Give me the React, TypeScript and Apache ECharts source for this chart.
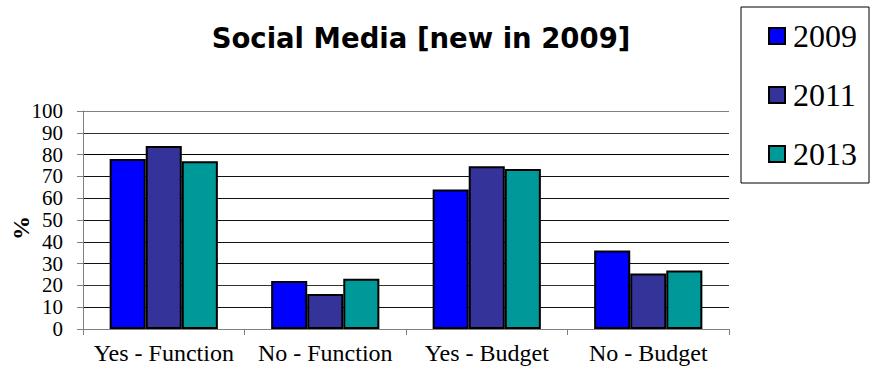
import React, { useEffect, useRef } from "react";
import * as echarts from "echarts";

const categories = ["Yes - Function", "No - Function", "Yes - Budget", "No - Budget"];
const seriesNames = ["2009", "2011", "2013"];
const values2009 = [78, 22, 64, 36];
const values2011 = [84, 16, 74.6, 25.5];
const values2013 = [77, 23, 73.4, 26.8];
const seriesColors = ["#0000FF", "#333399", "#009999"];
const yTickColors = ["#000", "#111", "#333", "#111", "#111", "#111", "#111", "#111", "#000", "#333", "#808080"];
const yAxisTitle = "%";

export default function App() {
  const ref = useRef<HTMLDivElement>(null);
  useEffect(() => {
    document.body.style.margin = "0";
    if (!ref.current) return;
    const chart = echarts.init(ref.current, undefined, { renderer: "svg" });
    const data = [values2009, values2011, values2013];
    chart.setOption({
      animation: false,
      title: {
        text: "Social Media [new in 2009]",
        left: 416,
        textAlign: "center",
        top: 19,
        textStyle: { fontFamily: "DejaVu Sans", fontWeight: "bold", fontSize: 27.5, color: "#000" },
      },
      graphic: [
        {
          type: "text",
          x: 21,
          y: 228,
          rotation: Math.PI / 2,
          style: {
            text: yAxisTitle,
            align: "center",
            verticalAlign: "middle",
            fontFamily: "Liberation Serif",
            fontWeight: "bold",
            fontSize: 24,
            fill: "#000",
          },
        },
      ],
      legend: {
        orient: "vertical",
        left: 741,
        top: 7,
        padding: [13, 12, 13, 27],
        itemGap: 27,
        itemWidth: 16,
        itemHeight: 16,
        icon: "rect",
        borderColor: "#000",
        borderWidth: 1,
        borderRadius: 0,
        textStyle: { fontFamily: "Liberation Serif", fontSize: 32, color: "#000", padding: [0, 0, 0, 3] },
        data: seriesNames,
      },
      grid: { left: 83, right: 144, top: 111, bottom: 41, containLabel: false, outerBoundsMode: "none" },
      xAxis: {
        type: "category",
        data: categories,
        axisLine: { lineStyle: { color: "#808080", width: 1 } },
        axisTick: { show: true, length: 6, lineStyle: { color: "#808080" } },
        axisLabel: { interval: 0, hideOverlap: false, fontFamily: "Liberation Serif", fontSize: 24, color: "#000", margin: 12 },
      },
      yAxis: {
        type: "value",
        min: 0,
        max: 100,
        interval: 10,
        axisLine: { show: true, lineStyle: { color: "#808080", width: 1 } },
        axisTick: { show: true, length: 6, lineStyle: { color: "#808080" } },
        axisLabel: {
          showMaxLabel: true,
          showMinLabel: true,
          hideOverlap: false,
          fontFamily: "Liberation Serif",
          fontSize: 21,
          lineHeight: 20,
          color: "#000",
          margin: 20,
        },
        splitLine: { lineStyle: { color: yTickColors, width: 1 } },
      },
      series: seriesNames.map((name, i) => ({
        name,
        type: "bar",
        data: data[i],
        barGap: "0%",
        barCategoryGap: "33%",
        itemStyle: { color: seriesColors[i], borderColor: "#000", borderWidth: 2 },
      })),
    });
    return () => chart.dispose();
  }, []);
  return <div ref={ref} style={{ width: 873, height: 370 }} />;
}
